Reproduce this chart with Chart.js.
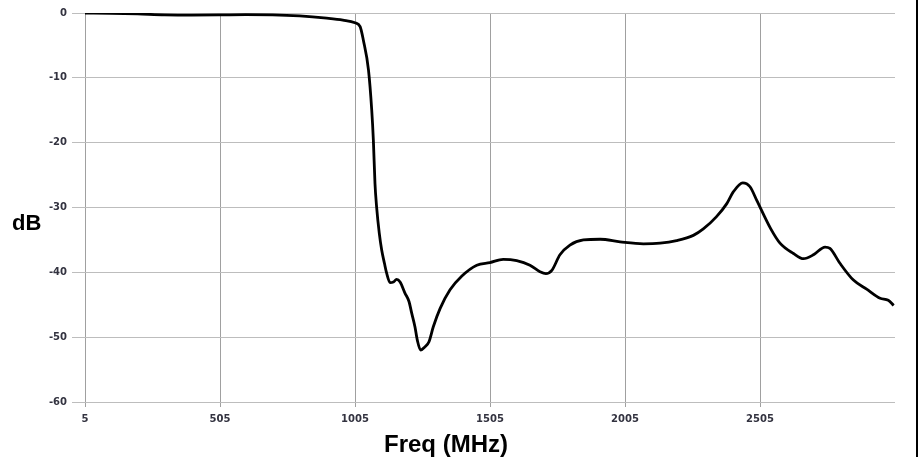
<!DOCTYPE html>
<html>
<head>
<meta charset="utf-8">
<script src="https://cdn.jsdelivr.net/npm/chart.js@4.4.1/dist/chart.umd.min.js"></script>
<style>
  html, body { margin: 0; padding: 0; background: #fff; }
  #wrap { position: relative; width: 922px; height: 457px; }
  #frame { position: absolute; left: 916px; top: 0; width: 2px; height: 457px; background: #000; }
</style>
</head>
<body>
<div id="wrap">
  <canvas id="c" width="922" height="457"></canvas>
  <div id="frame"></div>
</div>
<script>
const freqMHz = [5, 100, 200, 300, 400, 500, 600, 700, 800, 900, 960, 1005, 1024, 1036, 1055, 1067, 1073, 1079, 1085, 1095, 1104, 1114, 1122, 1135, 1147, 1159, 1172, 1190, 1205, 1215, 1227, 1236, 1248, 1264, 1279, 1295, 1320, 1357, 1400, 1456, 1505, 1554, 1604, 1653, 1690, 1712, 1734, 1764, 1801, 1851, 1913, 1987, 2073, 2135, 2196, 2258, 2295, 2344, 2382, 2406, 2441, 2468, 2493, 2545, 2579, 2629, 2666, 2703, 2746, 2764, 2801, 2851, 2900, 2950, 2980, 3000];
const gainDB = [0, -0.05, -0.15, -0.28, -0.32, -0.3, -0.25, -0.28, -0.45, -0.8, -1.1, -1.5, -2.1, -4.2, -8.8, -15, -19.6, -26.3, -29.9, -34, -36.6, -38.6, -40.1, -41.6, -41.5, -41.1, -41.5, -43.2, -44.5, -46.3, -48.4, -50.5, -52.0, -51.5, -50.7, -48.4, -45.6, -42.7, -40.6, -38.9, -38.5, -38.0, -38.2, -38.9, -39.9, -40.2, -39.7, -37.3, -35.8, -35.0, -34.9, -35.3, -35.6, -35.5, -35.1, -34.3, -33.3, -31.4, -29.4, -27.6, -26.2, -26.8, -28.9, -33.3, -35.5, -37.1, -37.9, -37.3, -36.1, -36.3, -38.6, -41.2, -42.6, -44.0, -44.3, -45.1];
const xTickValues = [5, 505, 1005, 1505, 2005, 2505];
const yTickValues = [0, -10, -20, -30, -40, -50, -60];
const xTitle = 'Freq (MHz)';
const yTitle = 'dB';

const points = freqMHz.map((f, i) => ({ x: f, y: gainDB[i] }));

const titlePlugin = {
  id: 'titles',
  afterDraw(chart) {
    const ctx = chart.ctx;
    ctx.save();
    ctx.fillStyle = '#000';
    ctx.textBaseline = 'alphabetic';
    ctx.font = 'bold 22px "Liberation Sans", Arial, sans-serif';
    ctx.textAlign = 'left';
    ctx.fillText(yTitle, 12, 230);
    ctx.font = 'bold 24px "Liberation Sans", Arial, sans-serif';
    ctx.textAlign = 'center';
    ctx.fillText(xTitle, 446, 452);
    ctx.restore();
  }
};

const tickFont = { family: '"DejaVu Sans", Verdana, sans-serif', size: 10, weight: 'bold' };

new Chart(document.getElementById('c'), {
  type: 'line',
  data: {
    datasets: [{
      data: points,
      borderColor: '#000',
      borderWidth: 2.8,
      pointRadius: 0,
      fill: false,
      cubicInterpolationMode: 'monotone'
    }]
  },
  options: {
    responsive: false,
    animation: false,
    plugins: { legend: { display: false }, tooltip: { enabled: false } },
    layout: { padding: { top: 13, right: 27, bottom: 0, left: 0 } },
    scales: {
      x: {
        type: 'linear',
        min: 5,
        max: 3005,
        afterBuildTicks(scale) { scale.ticks = xTickValues.map(v => ({ value: v })); },
        afterFit(scale) { scale.height = 55; },
        border: { display: false },
        grid: { color: '#a0a0a0', lineWidth: 1, tickLength: 5, drawTicks: true },
        ticks: { color: '#333340', font: tickFont, padding: 6, maxRotation: 0, autoSkip: false,
                 callback: v => String(v) }
      },
      y: {
        min: -60,
        max: 0,
        afterBuildTicks(scale) { scale.ticks = yTickValues.map(v => ({ value: v })); },
        afterFit(scale) { scale.width = 85; },
        border: { display: false },
        grid: { color: '#bdbdbd', lineWidth: 1, tickLength: 13, drawTicks: true },
        ticks: { color: '#333340', font: tickFont, padding: 5, callback: v => String(v) }
      }
    }
  },
  plugins: [titlePlugin]
});
</script>
</body>
</html>
